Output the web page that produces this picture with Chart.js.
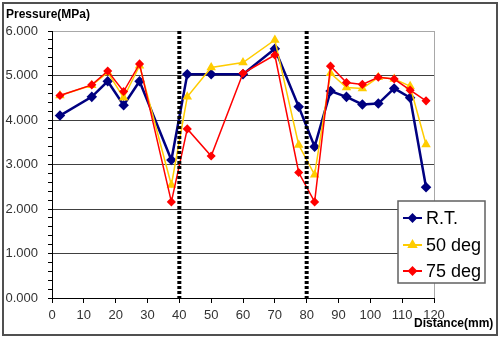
<!DOCTYPE html>
<html>
<head>
<meta charset="utf-8">
<title>Pressure vs Distance</title>
<script src="https://cdn.jsdelivr.net/npm/chart.js@4/dist/chart.umd.min.js"></script>
<style>
  html, body { margin: 0; padding: 0; background: #fff; }
  #wrap { width: 500px; height: 340px; position: relative; }
</style>
</head>
<body>
<div id="wrap"><canvas id="chart"></canvas></div>
<script>
// distance along the specimen (mm)
const positions = [2.5, 12.5, 17.5, 22.5, 27.5, 37.5, 42.5, 50, 60, 70, 77.5, 82.5, 87.5, 92.5, 97.5, 102.5, 107.5, 112.5, 117.5];

// pressure (MPa) per series
const seriesNames = ['R.T.', '50 deg', '75 deg'];
const rt    = [4.10, 4.52, 4.87, 4.33, 4.87, 3.10, 5.03, 5.03, 5.03, 5.60, 4.30, 3.40, 4.65, 4.52, 4.35, 4.37, 4.71, 4.50, 2.49];
const deg50 = [4.55, 4.78, 5.07, 4.50, 5.22, 2.54, 4.52, 5.18, 5.29, 5.80, 3.44, 2.77, 5.05, 4.73, 4.71, 4.96, 4.92, 4.76, 3.45];
const deg75 = [4.55, 4.79, 5.10, 4.64, 5.26, 2.16, 3.80, 3.19, 5.05, 5.46, 2.82, 2.16, 5.21, 4.84, 4.80, 4.96, 4.92, 4.67, 4.43];

// section boundaries (mm)
const dividers = [40, 80];

const FONT = "'Liberation Sans', Arial, sans-serif";

function toPoints(values) {
  return values.map((v, i) => ({ x: positions[i], y: v }));
}

const isWhole = v => Math.abs(v - Math.round(v)) < 1e-6;

/**
 * Frame, axis titles, right border, dotted dividers and legend box
 */
const decorations = {
  id: 'decorations',
  afterDatasetsDraw(chart) {
    const { ctx, chartArea, scales } = chart;
    ctx.save();
    // right border of the plot area
    ctx.strokeStyle = '#a8a8a8';
    ctx.lineWidth = 1;
    ctx.beginPath();
    ctx.moveTo(Math.round(chartArea.right) + 0.5, chartArea.top);
    ctx.lineTo(Math.round(chartArea.right) + 0.5, chartArea.bottom);
    ctx.stroke();

    // dotted section dividers
    ctx.strokeStyle = '#000';
    ctx.lineWidth = 4;
    ctx.setLineDash([3, 2]);
    dividers.forEach(d => {
      const x = scales.x.getPixelForValue(d);
      ctx.beginPath();
      ctx.moveTo(x, chartArea.top);
      ctx.lineTo(x, chartArea.bottom);
      ctx.stroke();
    });
    ctx.restore();
  },
  afterDraw(chart) {
    const { ctx } = chart;
    ctx.save();
    // outer frame
    ctx.strokeStyle = '#505050';
    ctx.lineWidth = 2;
    ctx.strokeRect(3, 3, 494, 332);

    // axis titles
    ctx.fillStyle = '#000';
    ctx.font = 'bold 12px ' + FONT;
    ctx.textBaseline = 'middle';
    ctx.textAlign = 'left';
    ctx.fillText('Pressure(MPa)', 6, 15);
    ctx.fillText('Distance(mm)', 414, 324);

    // legend
    ctx.fillStyle = '#fff';
    ctx.fillRect(398, 201, 87, 82);
    ctx.strokeStyle = '#606060';
    ctx.lineWidth = 1.5;
    ctx.strokeRect(398, 201, 87, 82);
    const rows = [218, 245, 271];
    chart.data.datasets.forEach((ds, i) => {
      const y = rows[i];
      ctx.strokeStyle = ds.borderColor;
      ctx.lineWidth = 2;
      ctx.beginPath();
      ctx.moveTo(403, y);
      ctx.lineTo(422, y);
      ctx.stroke();
      ctx.fillStyle = ds.pointBackgroundColor;
      ctx.strokeStyle = ds.pointBorderColor;
      Chart.helpers.drawPoint(ctx, {
        pointStyle: ds.pointStyle,
        radius: ds.pointRadius,
        rotation: 0,
        borderWidth: 1
      }, 412.5, y);
      ctx.fillStyle = '#000';
      ctx.font = '18px ' + FONT;
      ctx.textBaseline = 'middle';
      ctx.fillText(ds.label, 426, y + 1);
    });
    ctx.restore();
  }
};

const ctx = document.getElementById('chart').getContext('2d');

new Chart(ctx, {
  type: 'line',
  data: {
    datasets: [
      {
        label: seriesNames[0],
        data: toPoints(rt),
        borderColor: '#000080',
        backgroundColor: '#000080',
        pointBackgroundColor: '#000080',
        pointBorderColor: '#000080',
        borderWidth: 2.5,
        pointStyle: 'rectRot',
        pointRadius: 3.5,
        order: 2
      },
      {
        label: seriesNames[1],
        data: toPoints(deg50),
        borderColor: '#FFCC00',
        backgroundColor: '#FFCC00',
        pointBackgroundColor: '#FFCC00',
        pointBorderColor: '#FFCC00',
        borderWidth: 1.5,
        pointStyle: 'triangle',
        pointRadius: 4,
        order: 1
      },
      {
        label: seriesNames[2],
        data: toPoints(deg75),
        borderColor: '#FF0000',
        backgroundColor: '#FF0000',
        pointBackgroundColor: '#FF0000',
        pointBorderColor: '#FF0000',
        borderWidth: 1.5,
        pointStyle: 'rectRot',
        pointRadius: 3.5,
        order: 0
      }
    ]
  },
  options: {
    responsive: true,
    maintainAspectRatio: false,
    animation: false,
    layout: { padding: { left: 0, top: 31, right: 66, bottom: 0 } },
    elements: { line: { tension: 0 } },
    plugins: {
      legend: { display: false },
      tooltip: { enabled: false }
    },
    scales: {
      x: {
        type: 'linear',
        min: 0,
        max: 120,
        afterFit: s => { s.height = 42; },
        border: { color: '#000', width: 1 },
        grid: { drawOnChartArea: false, tickLength: 5, tickColor: '#000' },
        ticks: {
          stepSize: 10,
          padding: 5,
          color: '#333',
          font: { family: FONT, size: 13 },
          maxRotation: 0
        }
      },
      y: {
        min: 0,
        max: 6,
        afterFit: s => { s.width = 52; },
        border: { color: '#000', width: 1 },
        grid: {
          tickLength: 4,
          tickColor: '#000',
          color: c => {
            const v = c.tick ? c.tick.value : 0;
            if (!isWhole(v) || Math.round(v) === 0) return 'rgba(0,0,0,0)';
            return Math.round(v) === 6 ? '#a8a8a8' : '#404040';
          }
        },
        ticks: {
          stepSize: 0.2,
          autoSkip: false,
          padding: 10,
          color: '#333',
          font: { family: FONT, size: 13 },
          callback: v => isWhole(v) ? Math.round(v).toFixed(3) : ''
        }
      }
    }
  },
  plugins: [decorations]
});
</script>
</body>
</html>
